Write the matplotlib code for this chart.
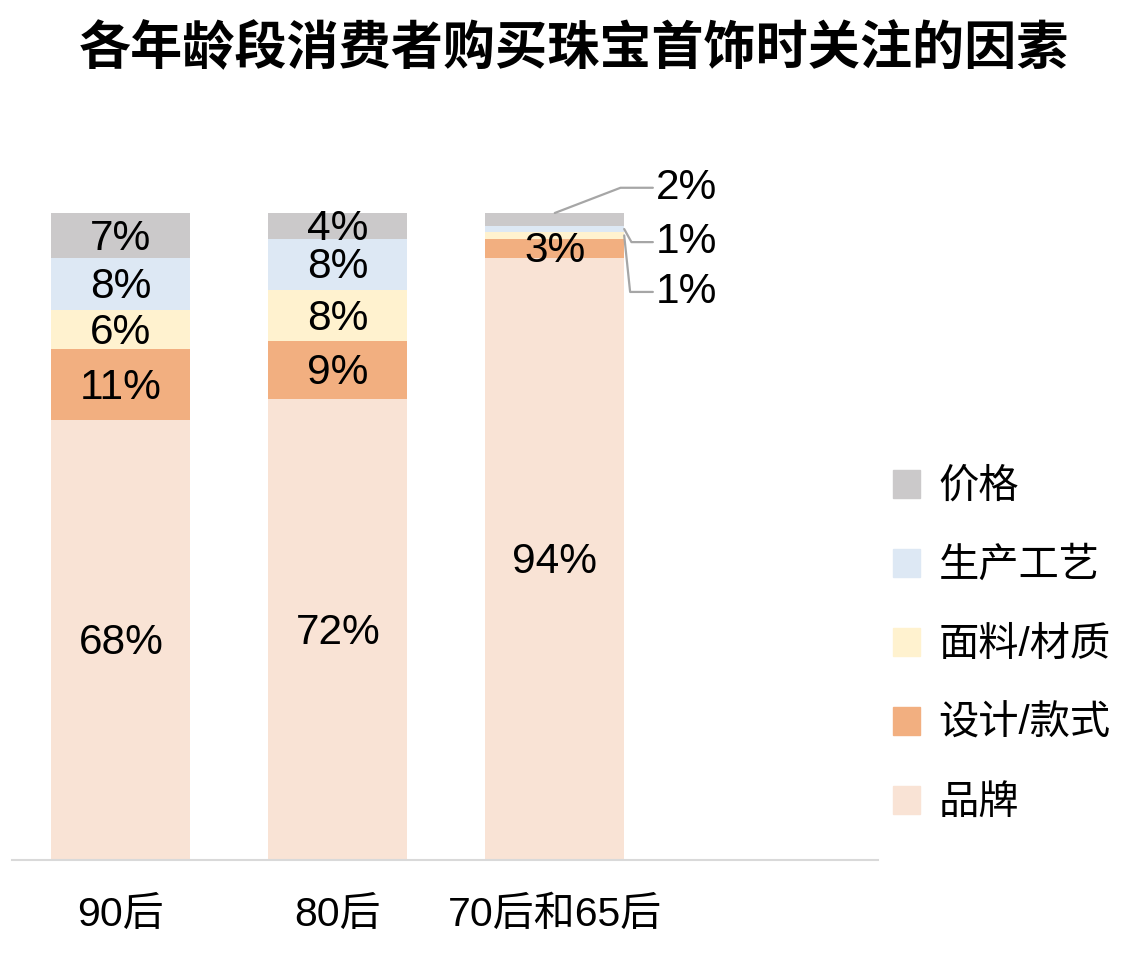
import matplotlib.pyplot as plt
from matplotlib.patches import Patch
import numpy as np

plt.rcParams['font.family'] = ['Liberation Sans', 'Noto Sans CJK SC']

groups = ['90后', '80后', '70后和65后']
factors = ['品牌', '设计/款式', '面料/材质', '生产工艺', '价格']
brand = [68, 72, 94]
design = [11, 9, 3]
material = [6, 8, 1]
craft = [8, 8, 1]
price = [7, 4, 2]
colors = ['#F9E3D5', '#F2AF80', '#FFF2CF', '#DDE8F4', '#CBC9CA']

series = np.array([brand, design, material, craft, price], dtype=float)
# bars in the source are scaled to fill 100%
shares = series / series.sum(axis=0) * 100

fig = plt.figure(figsize=(11.48, 9.76), dpi=100)
ax = fig.add_axes([12 / 1148, 116 / 976, 866 / 1148, 647 / 976])

x = np.arange(len(groups))
width = 0.64
bottom = np.zeros(len(groups))
for i, name in enumerate(factors):
    ax.bar(x, shares[i], width, bottom=bottom, color=colors[i], label=name)
    for j in range(len(groups)):
        small = j == 2 and name in ('面料/材质', '生产工艺', '价格')
        if not small:
            ax.text(x[j], bottom[j] + shares[i][j] / 2 - 0.5, f'{int(series[i][j])}%',
                    ha='center', va='center', fontsize=30.5, color='black')
    bottom += shares[i]

# leader-line labels for the thin segments of the last bar
line_kw = dict(arrowstyle='-', color='#A6A6A6', lw=1.6, shrinkA=0, shrinkB=0)
j = 2
tops = np.cumsum(shares[:, j])
ax.annotate(f'{price[j]}%', xy=(x[j], 100), xytext=(x[j] + 0.465, 103.9),
            ha='left', va='center', fontsize=30.5, annotation_clip=False,
            arrowprops=dict(connectionstyle='angle,angleA=0,angleB=21', **line_kw))
ax.annotate(f'{craft[j]}%', xy=(x[j] + width / 2, tops[3] - shares[3, j] / 2),
            xytext=(x[j] + 0.465, 95.5),
            ha='left', va='center', fontsize=30.5, annotation_clip=False,
            arrowprops=dict(connectionstyle='angle,angleA=0,angleB=-61', **line_kw))
ax.annotate(f'{material[j]}%', xy=(x[j] + width / 2, tops[2] - shares[2, j] / 2),
            xytext=(x[j] + 0.465, 87.8),
            ha='left', va='center', fontsize=30.5, annotation_clip=False,
            arrowprops=dict(connectionstyle='angle,angleA=0,angleB=-84', **line_kw))

ax.set_xlim(-0.502, 3.49)
ax.set_ylim(0, 100)
ax.set_xticks(x)
ax.set_xticklabels(groups, fontsize=29.5)
ax.tick_params(axis='x', length=0, pad=26)
ax.set_yticks([])
for side in ['top', 'right', 'left']:
    ax.spines[side].set_visible(False)
ax.spines['bottom'].set_color('#D9D9D9')
ax.spines['bottom'].set_linewidth(1.5)

handles = [Patch(color=c) for c in colors][::-1]
ax.legend(handles, factors[::-1], loc='center left', frameon=False,
          bbox_to_anchor=(893 / 1148, 1 - 645 / 976), bbox_transform=fig.transFigure,
          fontsize=29, handlelength=0.68, handleheight=0.68, handletextpad=0.45,
          labelspacing=1.02, borderpad=0, borderaxespad=0)

fig.text(0.5, 1 - 50 / 976, '各年龄段消费者购买珠宝首饰时关注的因素',
         ha='center', va='center', fontsize=37.5, fontweight='bold')

fig.savefig('out.png', dpi=100)
